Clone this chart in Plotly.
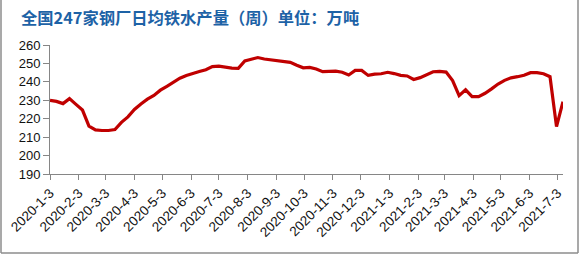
import pandas as pd
import plotly.graph_objects as go

title_text = "全国247家钢厂日均铁水产量（周）单位：万吨"
start_date = "2020-01-03"
end_date = "2021-07-09"

# weekly (Friday) values, 万吨
values = [
    230.0, 229.4, 228.2, 230.9, 227.8, 224.7, 216.0, 213.9, 213.6, 213.6,
    214.1, 218.0, 221.0, 225.0, 228.0, 230.6, 232.6, 235.5, 237.6, 240.0,
    242.0, 243.5, 244.7, 245.6, 246.6, 248.3, 248.5, 247.8, 247.5, 247.3,
    251.3, 252.3, 253.2, 252.4, 251.9, 251.4, 250.9, 250.6, 249.0, 247.6,
    247.8, 247.0, 245.5, 245.8, 245.8, 245.2, 243.7, 246.2, 246.2, 243.5,
    244.2, 244.4, 245.2, 244.5, 243.5, 243.2, 241.3, 242.3, 243.8, 245.5,
    245.7, 245.3, 240.7, 232.5, 235.7, 232.0, 232.0, 233.8, 236.2, 238.8,
    240.8, 242.2, 242.8, 243.6, 245.0, 245.0, 244.4, 242.8, 215.7, 229.2,
]
dates = pd.date_range(start_date, periods=len(values), freq="7D")

tick_dates = [
    "2020-01-03", "2020-02-03", "2020-03-03", "2020-04-03", "2020-05-03",
    "2020-06-03", "2020-07-03", "2020-08-03", "2020-09-03", "2020-10-03",
    "2020-11-03", "2020-12-03", "2021-01-03", "2021-02-03", "2021-03-03",
    "2021-04-03", "2021-05-03", "2021-06-03", "2021-07-03",
]
tick_labels = [
    "2020-1-3", "2020-2-3", "2020-3-3", "2020-4-3", "2020-5-3",
    "2020-6-3", "2020-7-3", "2020-8-3", "2020-9-3", "2020-10-3",
    "2020-11-3", "2020-12-3", "2021-1-3", "2021-2-3", "2021-3-3",
    "2021-4-3", "2021-5-3", "2021-6-3", "2021-7-3",
]
y_ticks = [190, 200, 210, 220, 230, 240, 250, 260]

W, H = 580, 255
ml, mr, mt, mb = 50, 17, 45, 81
pw, ph = W - ml - mr, H - mt - mb

def px_x(p):
    return (p - ml) / pw

def px_y(p):
    return (H - mb - p) / ph

fig = go.Figure()
fig.add_trace(go.Scatter(
    x=dates, y=values, mode="lines",
    line=dict(color="#C00000", width=3.2),
    hoverinfo="skip",
))

axis_col = "#868686"
fig.update_layout(
    width=W, height=H,
    margin=dict(l=ml, r=mr, t=mt, b=mb, autoexpand=False),
    paper_bgcolor="white", plot_bgcolor="white",
    showlegend=False,
    title=dict(
        text="<b>" + title_text + "</b>",
        xref="container", yref="container",
        x=21 / W, xanchor="left", y=1 - 18 / H, yanchor="middle",
        font=dict(family="Noto Sans CJK SC", size=16.3, color="#1D62A6"),
    ),
    xaxis=dict(
        type="date", automargin=False,
        range=[start_date, end_date],
        tickmode="array", tickvals=tick_dates, ticktext=tick_labels,
        tickangle=-45,
        ticks="outside", ticklen=5, tickcolor=axis_col, tickwidth=1,
        showline=True, linecolor=axis_col, linewidth=1,
        showgrid=False, zeroline=False,
        tickfont=dict(family="Liberation Sans", size=13.5, color="#111111"),
    ),
    yaxis=dict(
        range=[190, 260], automargin=False,
        tickmode="array", tickvals=y_ticks,
        ticks="outside", ticklen=6, tickcolor=axis_col, tickwidth=1,
        showline=True, linecolor=axis_col, linewidth=1,
        showgrid=False, zeroline=False,
        tickfont=dict(family="Liberation Sans", size=13, color="#111111"),
    ),
)

frame_col = "#8C8C8C"
for (x0, y0, x1, y1) in [(1, 0, 1, 253), (1, 253, 578, 253), (578, 0, 578, 253)]:
    fig.add_shape(type="line", xref="paper", yref="paper",
                  x0=px_x(x0), y0=px_y(y0), x1=px_x(x1), y1=px_y(y1),
                  line=dict(color=frame_col, width=1.5))

fig.write_html("out.html")
